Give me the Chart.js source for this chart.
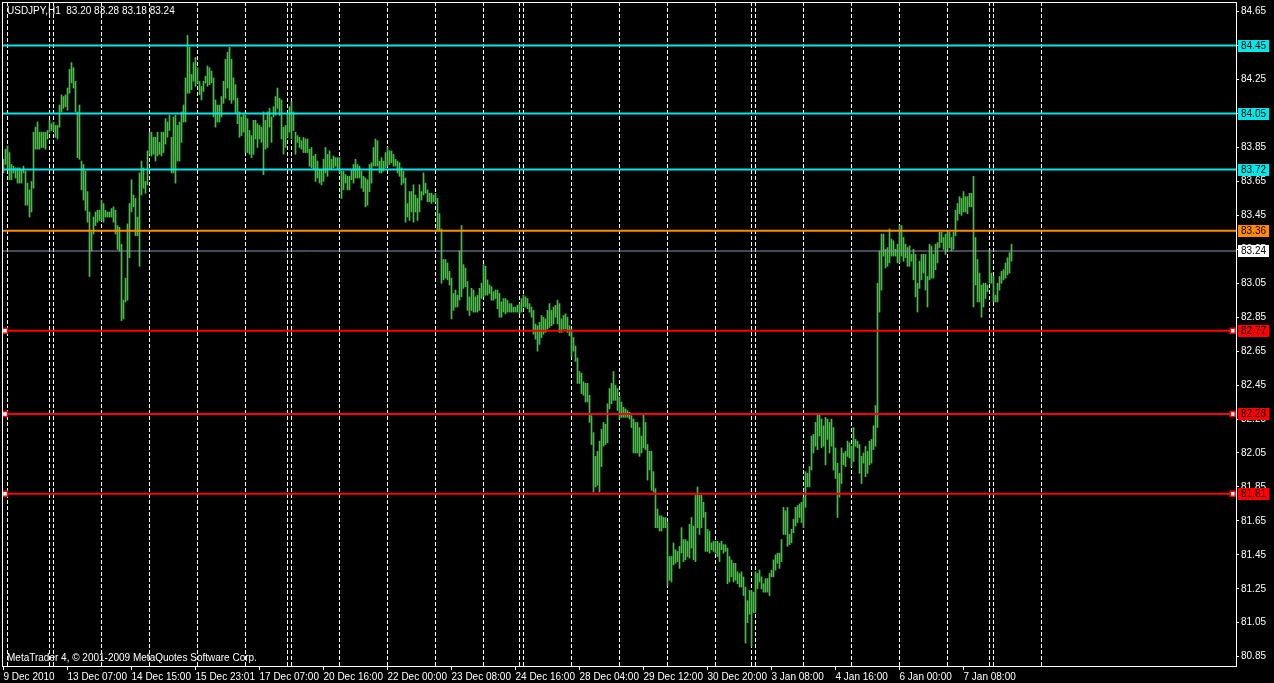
<!DOCTYPE html>
<html>
<head>
  <meta charset="UTF-8">
  <title>USDJPY,H1</title>
  <script src="https://cdn.jsdelivr.net/npm/chart.js"></script>
  <style>
    html, body { margin: 0; padding: 0; background: #000; overflow: hidden; }
    canvas { display: block; }
  </style>
</head>
<body>
  <canvas id="mt4Chart" width="1274" height="683"></canvas>

  <script>
    // hourly bars, one value per bar (index 0 = first bar on the left)
    const highs = [
      83.78, 83.84, 83.86, 83.82, 83.75, 83.74, 83.73, 83.73, 83.73, 83.72,
      83.74, 83.71, 83.64, 83.60, 83.65, 83.94, 83.97, 84.00, 83.94, 83.94,
      83.94, 83.94, 83.95, 84.01, 83.99, 84.00, 83.98, 83.98, 84.10, 84.16,
      84.15, 84.16, 84.20, 84.31, 84.35, 84.32, 84.24, 84.06, 84.10, 83.77,
      83.75, 83.71, 83.59, 83.47, 83.35, 83.44, 83.47, 83.48, 83.48, 83.54,
      83.52, 83.48, 83.47, 83.47, 83.49, 83.50, 83.48, 83.39, 83.38, 83.28,
      82.95, 83.08, 83.40, 83.52, 83.66, 83.57, 83.55, 83.44, 83.70, 83.77,
      83.73, 83.65, 83.83, 83.94, 83.94, 83.91, 83.91, 83.94, 83.88, 83.94,
      83.94, 84.02, 84.00, 84.04, 83.91, 84.03, 84.04, 83.98, 84.00, 84.06,
      84.10, 84.26, 84.51, 84.44, 84.28, 84.35, 84.38, 84.32, 84.24, 84.21,
      84.24, 84.27, 84.33, 84.32, 84.30, 84.26, 84.13, 84.10, 84.10, 84.15,
      84.24, 84.37, 84.41, 84.44, 84.37, 84.26, 84.22, 84.14, 84.06, 84.03,
      84.05, 84.04, 84.02, 83.95, 83.92, 84.01, 84.01, 83.99, 83.98, 83.97,
      84.06, 84.01, 84.06, 84.08, 84.03, 84.09, 84.15, 84.20, 84.14, 84.13,
      83.97, 83.98, 84.05, 84.09, 84.12, 84.06, 83.94, 83.92, 83.91, 83.89,
      83.91, 83.90, 83.90, 83.84, 83.85, 83.80, 83.81, 83.77, 83.72, 83.72,
      83.78, 83.85, 83.81, 83.83, 83.78, 83.80, 83.79, 83.79, 83.79, 83.71,
      83.71, 83.69, 83.68, 83.68, 83.72, 83.75, 83.78, 83.75, 83.74, 83.71,
      83.68, 83.67, 83.66, 83.75, 83.76, 83.85, 83.90, 83.89, 83.77, 83.79,
      83.77, 83.82, 83.85, 83.83, 83.83, 83.81, 83.78, 83.77, 83.76, 83.73,
      83.71, 83.67, 83.52, 83.59, 83.59, 83.63, 83.57, 83.55, 83.63, 83.59,
      83.70, 83.64, 83.60, 83.58, 83.58, 83.57, 83.58, 83.55, 83.46, 83.37,
      83.19, 83.19, 83.17, 83.12, 83.08, 82.99, 83.01, 82.98, 83.24, 83.39,
      83.16, 83.14, 83.06, 82.97, 83.02, 83.01, 82.97, 82.98, 83.02, 83.05,
      83.16, 83.15, 83.07, 83.04, 83.03, 83.00, 83.01, 83.01, 82.99, 82.94,
      82.96, 82.96, 82.95, 82.93, 82.93, 82.91, 82.91, 82.92, 82.93, 82.96,
      82.98, 82.97, 82.96, 82.93, 82.91, 82.89, 82.81, 82.80, 82.82, 82.86,
      82.85, 82.84, 82.89, 82.93, 82.89, 82.91, 82.92, 82.95, 82.93, 82.84,
      82.86, 82.87, 82.85, 82.80, 82.78, 82.73, 82.68, 82.61, 82.53, 82.52,
      82.47, 82.46, 82.46, 82.39, 82.27, 82.17, 82.03, 82.06, 82.12, 82.19,
      82.23, 82.22, 82.34, 82.43, 82.46, 82.53, 82.45, 82.43, 82.38, 82.35,
      82.32, 82.31, 82.30, 82.29, 82.27, 82.25, 82.23, 82.23, 82.20, 82.15,
      82.28, 82.23, 82.10, 82.06, 82.06, 81.94, 81.84, 81.72, 81.68, 81.68,
      81.67, 81.67, 81.64, 81.44, 81.44, 81.52, 81.48, 81.47, 81.50, 81.61,
      81.54, 81.54, 81.53, 81.63, 81.67, 81.62, 81.80, 81.85, 81.80, 81.80,
      81.76, 81.70, 81.60, 81.59, 81.52, 81.53, 81.53, 81.53, 81.52, 81.53,
      81.51, 81.51, 81.49, 81.44, 81.42, 81.40, 81.40, 81.35, 81.34, 81.35,
      81.32, 81.26, 81.18, 81.24, 81.24, 81.23, 81.35, 81.34, 81.36, 81.32,
      81.28, 81.31, 81.31, 81.34, 81.36, 81.42, 81.45, 81.46, 81.46, 81.54,
      81.73, 81.71, 81.73, 81.57, 81.60, 81.66, 81.73, 81.74, 81.75, 81.76,
      81.79, 81.94, 81.93, 81.97, 82.15, 82.16, 82.23, 82.28, 82.28, 82.25,
      82.21, 82.26, 82.25, 82.23, 82.25, 82.20, 82.08, 81.99, 81.93, 82.08,
      82.05, 82.06, 82.12, 82.11, 82.09, 82.20, 82.13, 82.12, 82.10, 82.03,
      82.05, 82.09, 82.06, 82.12, 82.13, 82.21, 82.33, 83.05, 83.24, 83.34,
      83.34, 83.25, 83.26, 83.37, 83.31, 83.30, 83.25, 83.28, 83.39, 83.39,
      83.32, 83.28, 83.26, 83.27, 83.22, 83.25, 83.22, 83.05, 83.18, 83.22,
      83.22, 83.22, 83.09, 83.28, 83.27, 83.22, 83.28, 83.29, 83.35, 83.35,
      83.32, 83.34, 83.35, 83.35, 83.32, 83.35, 83.48, 83.52, 83.56, 83.55,
      83.59, 83.56, 83.56, 83.58, 83.58, 83.68, 83.32, 83.19, 83.11, 83.04,
      83.05, 83.05, 83.04, 83.24, 83.11, 83.09, 82.98, 83.05, 83.09, 83.12,
      83.13, 83.17, 83.20, 83.23, 83.28
    ];
    const lows = [
      83.70, 83.75, 83.72, 83.66, 83.66, 83.70, 83.67, 83.64, 83.64, 83.64,
      83.70, 83.51, 83.51, 83.44, 83.47, 83.61, 83.84, 83.84, 83.84, 83.85,
      83.85, 83.84, 83.90, 83.94, 83.95, 83.95, 83.91, 83.90, 83.97, 84.06,
      84.08, 84.09, 84.07, 84.17, 84.23, 84.20, 84.06, 83.79, 83.78, 83.60,
      83.54, 83.48, 83.41, 83.09, 83.24, 83.34, 83.39, 83.41, 83.42, 83.42,
      83.41, 83.44, 83.44, 83.44, 83.44, 83.41, 83.34, 83.25, 83.24, 82.83,
      82.84, 82.94, 82.95, 83.20, 83.47, 83.50, 83.33, 83.33, 83.15, 83.57,
      83.61, 83.58, 83.63, 83.81, 83.80, 83.81, 83.77, 83.80, 83.81, 83.80,
      83.82, 83.87, 83.91, 83.95, 83.70, 83.70, 83.64, 83.77, 83.77, 83.88,
      84.00, 84.00, 84.17, 84.17, 84.19, 84.24, 84.21, 84.23, 84.16, 84.13,
      84.18, 84.23, 84.21, 84.22, 84.23, 84.03, 83.97, 84.00, 84.00, 84.03,
      84.11, 84.14, 84.20, 84.13, 84.11, 84.13, 84.05, 83.99, 83.91, 83.92,
      83.94, 83.82, 83.82, 83.81, 83.79, 83.81, 83.90, 83.85, 83.90, 83.88,
      83.69, 83.84, 83.85, 83.97, 83.88, 84.03, 84.04, 84.08, 84.04, 83.90,
      83.81, 83.85, 83.91, 83.94, 83.90, 83.95, 83.81, 83.88, 83.85, 83.84,
      83.82, 83.82, 83.82, 83.74, 83.73, 83.72, 83.65, 83.67, 83.64, 83.63,
      83.65, 83.70, 83.68, 83.72, 83.72, 83.73, 83.74, 83.72, 83.70, 83.55,
      83.60, 83.64, 83.60, 83.60, 83.66, 83.64, 83.67, 83.67, 83.67, 83.61,
      83.59, 83.50, 83.51, 83.59, 83.64, 83.74, 83.74, 83.74, 83.70, 83.70,
      83.71, 83.73, 83.74, 83.75, 83.76, 83.74, 83.74, 83.70, 83.68, 83.63,
      83.64, 83.41, 83.44, 83.42, 83.47, 83.41, 83.47, 83.42, 83.47, 83.54,
      83.57, 83.58, 83.53, 83.53, 83.52, 83.53, 83.53, 83.36, 83.36, 83.05,
      83.07, 83.08, 83.07, 83.04, 82.84, 82.89, 82.91, 82.91, 82.95, 82.97,
      83.02, 83.03, 82.89, 82.86, 82.89, 82.88, 82.88, 82.88, 82.89, 82.96,
      82.97, 82.98, 82.98, 82.99, 82.95, 82.95, 82.96, 82.90, 82.85, 82.85,
      82.88, 82.87, 82.88, 82.88, 82.88, 82.88, 82.88, 82.88, 82.87, 82.88,
      82.91, 82.91, 82.90, 82.88, 82.85, 82.75, 82.72, 82.65, 82.69, 82.73,
      82.75, 82.76, 82.78, 82.79, 82.80, 82.81, 82.85, 82.81, 82.76, 82.76,
      82.78, 82.78, 82.76, 82.74, 82.62, 82.65, 82.59, 82.46, 82.46, 82.40,
      82.39, 82.35, 82.35, 82.23, 82.10, 81.82, 81.85, 81.86, 81.82, 81.97,
      82.09, 82.10, 82.11, 82.31, 82.34, 82.36, 82.36, 82.30, 82.25, 82.26,
      82.26, 82.26, 82.26, 82.25, 82.20, 82.05, 82.05, 82.05, 82.03, 82.05,
      82.08, 82.07, 81.89, 81.95, 81.83, 81.82, 81.61, 81.61, 81.59, 81.59,
      81.61, 81.61, 81.27, 81.30, 81.29, 81.39, 81.40, 81.41, 81.37, 81.46,
      81.41, 81.42, 81.44, 81.43, 81.49, 81.42, 81.41, 81.61, 81.57, 81.61,
      81.67, 81.47, 81.47, 81.46, 81.48, 81.47, 81.46, 81.44, 81.41, 81.48,
      81.46, 81.47, 81.28, 81.29, 81.32, 81.29, 81.30, 81.28, 81.26, 81.26,
      81.21, 80.93, 81.05, 81.10, 80.91, 81.11, 81.11, 81.25, 81.29, 81.25,
      81.23, 81.23, 81.23, 81.21, 81.32, 81.32, 81.36, 81.40, 81.37, 81.41,
      81.57, 81.57, 81.50, 81.51, 81.52, 81.58, 81.62, 81.64, 81.67, 81.64,
      81.61, 81.73, 81.85, 81.85, 81.95, 82.05, 82.09, 82.07, 82.15, 82.08,
      82.09, 81.98, 82.13, 82.05, 82.09, 81.95, 81.90, 81.67, 81.79, 81.87,
      81.98, 81.97, 82.03, 82.02, 81.97, 82.00, 82.09, 82.08, 81.93, 81.87,
      81.99, 81.91, 81.93, 81.98, 81.99, 82.07, 82.09, 82.20, 82.88, 83.01,
      83.21, 83.14, 83.15, 83.17, 83.21, 83.21, 83.21, 83.17, 83.17, 83.21,
      83.18, 83.20, 83.15, 83.15, 83.18, 83.07, 82.97, 82.88, 83.02, 83.07,
      83.11, 83.01, 82.91, 83.07, 83.08, 83.08, 83.13, 83.17, 83.26, 83.29,
      83.25, 83.22, 83.25, 83.26, 83.24, 83.25, 83.33, 83.42, 83.46, 83.45,
      83.47, 83.47, 83.46, 83.50, 83.50, 82.91, 83.04, 82.94, 82.94, 82.85,
      82.91, 82.96, 83.00, 83.05, 83.05, 82.94, 82.94, 82.94, 83.01, 83.05,
      83.07, 83.08, 83.10, 83.11, 83.18
    ];

    // time axis labels (bar index -> text)
    const labelIdx = [0, 32, 64, 96, 128, 160, 192, 224, 256, 288, 320, 352, 384, 416, 448, 480];
    const labelText = ['9 Dec 2010', '13 Dec 07:00', '14 Dec 15:00', '15 Dec 23:01', '17 Dec 07:00',
      '20 Dec 16:00', '22 Dec 00:00', '23 Dec 08:00', '24 Dec 16:00', '28 Dec 04:00',
      '29 Dec 12:00', '30 Dec 20:00', '3 Jan 08:00', '4 Jan 16:00', '6 Jan 00:00', '7 Jan 08:00'];
    // day separators (dashed grid)
    const daySep = [2, 23, 25, 49, 73, 97, 121, 142, 144, 168, 192, 216, 240, 258, 260,
      284, 308, 332, 356, 374, 376, 400, 424, 448, 472, 493, 495, 519];
    // price scale
    const priceTicks = [80.85, 81.05, 81.25, 81.45, 81.65, 81.85, 82.05, 82.25, 82.45, 82.65,
      82.85, 83.05, 83.25, 83.45, 83.65, 83.85, 84.05, 84.25, 84.45, 84.65];

    // horizontal levels
    const cyanLevels = [84.45, 84.05, 83.72];
    const orangeLevels = [83.36];
    const redLevels = [82.77, 82.28, 81.81];
    const lastPrice = 83.24;
    const header = 'USDJPY,H1  83.20 83.28 83.18 83.24';

    const X_MIN = -0.75, X_MAX = 616.25;
    const FONT = "'Liberation Sans', Arial, sans-serif";

    Chart.defaults.font.family = FONT;
    Chart.defaults.font.size = 10;
    Chart.defaults.color = '#fff';

    // all x ticks: labelled ticks + day separators
    const xTicks = [...new Set([...labelIdx, ...daySep])].sort((a, b) => a - b);

    function levelSet(values, color, markers) {
      return values.map(v => ({
        type: 'line',
        data: markers
          ? [{x: X_MIN, y: v}, {x: 0.75, y: v}, {x: 614.6, y: v}, {x: X_MAX, y: v}]
          : [{x: X_MIN, y: v}, {x: X_MAX, y: v}],
        borderColor: color,
        borderWidth: 2,
        pointRadius: markers ? [0, 3.5, 3.5, 0] : 0,
        pointStyle: 'rect',
        pointBackgroundColor: '#fff',
        pointBorderColor: color,
        pointBorderWidth: 1.5,
        order: 1
      }));
    }

    const tags = [
      ...cyanLevels.map(v => ({v, bg: '#00e8e8'})),
      ...orangeLevels.map(v => ({v, bg: '#ff8c00'})),
      {v: lastPrice, bg: '#ffffff'},
      ...redLevels.map(v => ({v, bg: '#ff0000'}))
    ];

    // frame, price tags and the two captions
    const decor = {
      id: 'decor',
      afterDraw(chart) {
        const ctx = chart.ctx;
        const a = chart.chartArea;
        const y = chart.scales.y;
        ctx.save();
        ctx.strokeStyle = '#fff';
        ctx.lineWidth = 1;
        ctx.strokeRect(a.left + 0.5, a.top + 0.5, a.right - a.left, a.bottom - a.top);
        ctx.font = '10px ' + FONT;
        ctx.textBaseline = 'middle';
        ctx.textAlign = 'left';
        tags.forEach(t => {
          const py = Math.round(y.getPixelForValue(t.v));
          ctx.fillStyle = t.bg;
          ctx.fillRect(a.right + 2, py - 6, 31, 12);
          ctx.fillStyle = '#000';
          ctx.fillText(t.v.toFixed(2), a.right + 5, py + 0.5);
        });
        ctx.fillStyle = '#fff';
        ctx.textBaseline = 'alphabetic';
        ctx.fillText(header, 7, 14);
        ctx.fillText('MetaTrader 4, \u00A9 2001-2009 MetaQuotes Software Corp.', 7, 661);
        ctx.restore();
      }
    };

    new Chart(document.getElementById('mt4Chart'), {
      type: 'bar',
      data: {
        datasets: [
          {
            type: 'line',
            data: [{x: X_MIN, y: lastPrice}, {x: X_MAX, y: lastPrice}],
            borderColor: '#8a96a8',
            borderWidth: 1,
            pointRadius: 0,
            order: 1
          },
          ...levelSet(cyanLevels, '#00e8e8', false),
          ...levelSet(orangeLevels, '#ff8c00', false),
          ...levelSet(redLevels, '#ff0000', true),
          {
            type: 'bar',
            data: highs.map((h, i) => ({x: i, y: [lows[i], h]})),
            backgroundColor: '#32cd32',
            borderWidth: 0,
            barThickness: 1,
            order: 2
          }
        ]
      },
      options: {
        responsive: false,
        maintainAspectRatio: false,
        devicePixelRatio: 1,
        animation: false,
        events: [],
        layout: { padding: { left: 2, top: 2, right: 0, bottom: 0 } },
        plugins: { legend: { display: false }, tooltip: { enabled: false } },
        scales: {
          x: {
            type: 'linear',
            position: 'bottom',
            offset: false,
            bounds: 'data',
            min: X_MIN,
            max: X_MAX,
            afterBuildTicks: s => { s.ticks = xTicks.map(v => ({value: v})); },
            afterFit: s => { s.height = 17; s.paddingLeft = 0; s.paddingRight = 0; },
            ticks: {
              autoSkip: false,
              maxRotation: 0,
              align: 'start',
              padding: 1,
              color: '#fff',
              callback: v => {
                const k = labelIdx.indexOf(v);
                return k >= 0 ? labelText[k] : '';
              }
            },
            grid: {
              offset: false,
              color: c => daySep.includes(c.tick && c.tick.value) ? '#fff' : 'rgba(0,0,0,0)',
              tickColor: c => labelIdx.includes(c.tick && c.tick.value) ? '#fff' : 'rgba(0,0,0,0)',
              tickLength: 4,
              lineWidth: 1
            },
            border: { display: false, dash: [4, 2] }
          },
          y: {
            position: 'right',
            min: 80.795,
            max: 84.707,
            afterBuildTicks: s => { s.ticks = priceTicks.map(v => ({value: v})); },
            afterFit: s => { s.width = 38; s.paddingTop = 0; s.paddingBottom = 0; },
            ticks: {
              padding: 2,
              color: '#fff',
              callback: v => v.toFixed(2)
            },
            grid: { drawOnChartArea: false, tickLength: 3, color: '#fff' },
            border: { display: false }
          }
        }
      },
      plugins: [decor]
    });
  </script>
</body>
</html>
